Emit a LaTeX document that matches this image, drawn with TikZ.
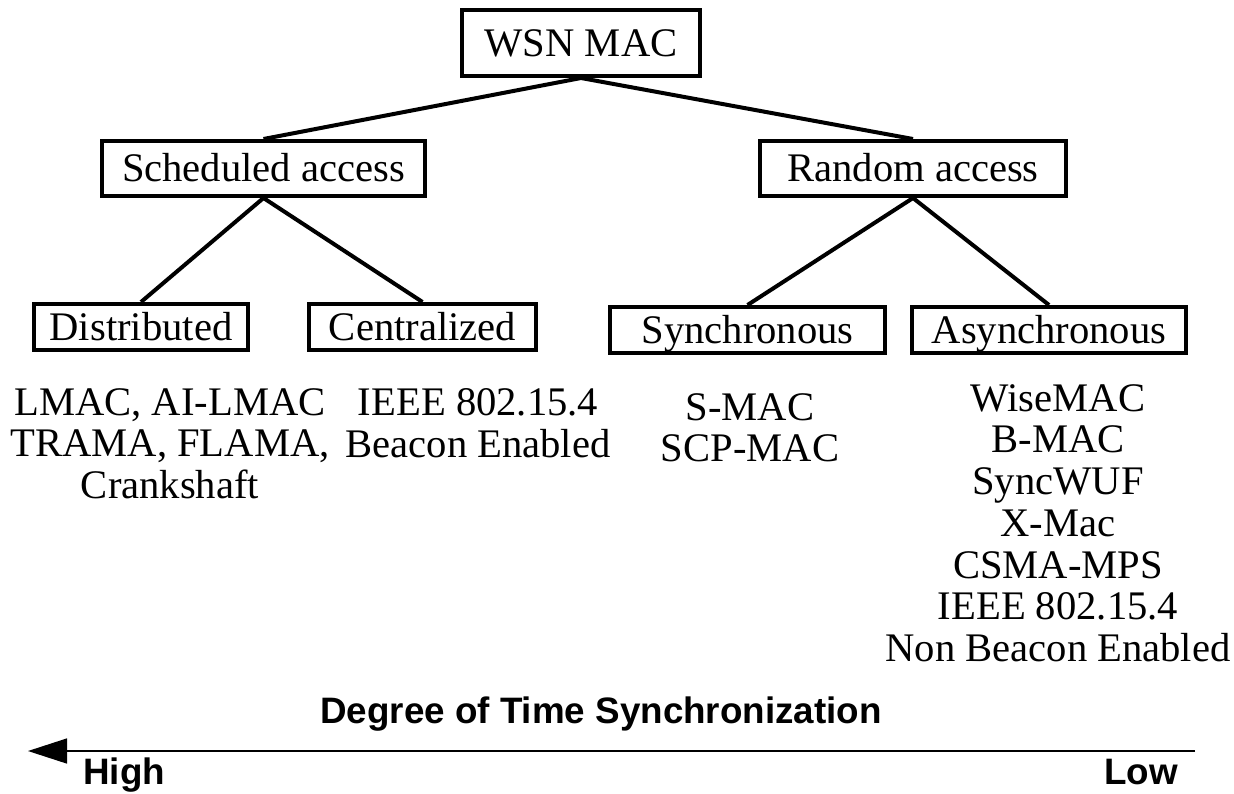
\documentclass[tikz,border=0pt]{standalone}
\usepackage{fontspec}
\setmainfont{Liberation Serif}
\newfontfamily\axisfont{Liberation Sans}
\usepackage{tikz}
\usetikzlibrary{arrows.meta}

\begin{document}
\begin{tikzpicture}[x=0.5pt,y=0.5pt]
\tikzstyle{every node}+=[inner sep=0pt]
\tikzstyle{macbox}=[draw=black,line width=2pt,text height=13.4pt,text depth=0pt,font=\fontsize{20.3}{20.85}\selectfont]
\tikzstyle{maclist}=[align=center,anchor=north,font=\fontsize{20.3}{20.85}\selectfont]
\tikzstyle{axislabel}=[font=\fontsize{18.4}{20}\selectfont\axisfont\bfseries]
\useasboundingbox (0,0) rectangle (1234,-793);
\node [macbox,minimum width=119pt,minimum height=33pt] (wsn) at (581,-43) {WSN MAC};
\node [macbox,minimum width=161.5pt,minimum height=27.5pt] (sched) at (263.5,-168.5) {Scheduled access};
\node [macbox,minimum width=153pt,minimum height=27.5pt] (random) at (913,-168.5) {Random access};
\node [macbox,minimum width=107pt,minimum height=23pt] (dist) at (141,-327) {Distributed};
\node [macbox,minimum width=113.5pt,minimum height=23pt] (central) at (422.5,-327) {Centralized};
\node [macbox,minimum width=137.5pt,minimum height=23pt] (sync) at (747.5,-330) {Synchronous};
\node [macbox,minimum width=137pt,minimum height=23pt] (async) at (1049,-330) {Asynchronous};
\draw [black,line width=2pt] (wsn.south) -- (sched.north);
\draw [black,line width=2pt] (wsn.south) -- (random.north);
\draw [black,line width=2pt] (sched.south) -- (dist.north);
\draw [black,line width=2pt] (sched.south) -- (central.north);
\draw [black,line width=2pt] (random.south) -- (sync.north);
\draw [black,line width=2pt] (random.south) -- (async.north);
\node [maclist] (distlist) at (170,-388) {LMAC, AI-LMAC\\TRAMA, FLAMA,\\Crankshaft};
\node [maclist] (centlist) at (478,-388) {IEEE 802.15.4\\Beacon Enabled};
\node [maclist] (synclist) at (750,-393) {S-MAC\\SCP-MAC};
\node [maclist] (asynclist) at (1058,-384) {WiseMAC\\B-MAC\\SyncWUF\\X-Mac\\CSMA-MPS\\IEEE 802.15.4\\Non Beacon Enabled};
% time synchronization axis
\coordinate (axisR) at (1195,-751);
\coordinate (axisL) at (28,-751);
\draw [black,line width=0.7pt,-{Triangle[length=19.5pt,width=12.5pt]}] (axisR) -- (axisL);
\node [axislabel,anchor=base] (degree) at (601,-723) {Degree of Time Synchronization};
\node [axislabel,anchor=base west] (high) at (83,-784) {High};
\node [axislabel,anchor=base east] (low) at (1178,-784) {Low};
\end{tikzpicture}
\end{document}
